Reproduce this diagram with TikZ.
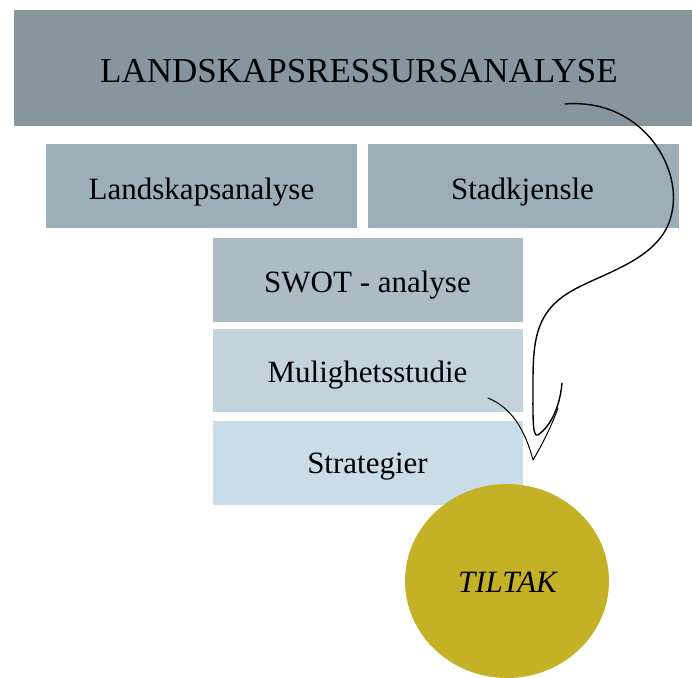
\documentclass[tikz,border=0pt]{standalone}
\usepackage{fontspec}
\setmainfont{Liberation Serif}
\usetikzlibrary{shapes.geometric}
\definecolor{ctop}{HTML}{87969E}
\definecolor{csec}{HTML}{9CAEB8}
\definecolor{cswot}{HTML}{ABBCC5}
\definecolor{cmul}{HTML}{C2D3DC}
\definecolor{cstr}{HTML}{C9DCE8}
\definecolor{ccirc}{HTML}{C4B126}
\begin{document}
\begin{tikzpicture}[x=1pt,y=-1pt,
  box/.style={rectangle, inner sep=0pt, outer sep=0pt},
  lbl/.style={anchor=base, inner sep=0pt, text=black,
    font=\fontsize{31}{34}\selectfont},
  pen/.style={draw=black, line width=1.4pt, line cap=round, line join=round}]
\useasboundingbox (0,0) rectangle (692,677);
\node[box, fill=ctop, minimum width=678pt, minimum height=116pt] (top) at (353,68) {};
\node[box, fill=csec, minimum width=311pt, minimum height=84pt] (land) at (201.5,186) {};
\node[box, fill=csec, minimum width=311pt, minimum height=84pt] (stad) at (523.5,186) {};
\node[box, fill=cswot, minimum width=310pt, minimum height=84pt] (swot) at (368,280) {};
\node[box, fill=cmul, minimum width=310pt, minimum height=83pt] (mul) at (368,370.5) {};
\node[box, fill=cstr, minimum width=310pt, minimum height=84pt] (str) at (368,463) {};
\node[ellipse, fill=ccirc, minimum width=204pt, minimum height=194pt, inner sep=0pt] (tilt) at (507,581) {};
\node[lbl, font=\fontsize{35}{38}\selectfont] (ttop) at (359,82) {LANDSKAPSRESSURSANALYSE};
\node[lbl] (tland) at (201.5,199) {Landskapsanalyse};
\node[lbl] (tstad) at (522.5,199) {Stadkjensle};
\node[lbl] (tswot) at (367.5,292) {SWOT - analyse};
\node[lbl] (tmul) at (367.5,382) {Mulighetsstudie};
\node[lbl] (tstr) at (367.5,473) {Strategier};
\node[lbl, font=\fontsize{31}{34}\selectfont\itshape] (ttilt) at (507.5,592) {TILTAK};
% hand-drawn arrow
\coordinate (a0) at (565,104);
\coordinate (a1) at (538,435);
\coordinate (a2) at (562,383);
\coordinate (b0) at (488,398);
\coordinate (b1) at (533,460);
\coordinate (b2) at (558,408);
\draw[pen] (a0) .. controls (640,98) and (682,165) .. (672,212)
  .. controls (664,256) and (612,270) .. (577,288)
  .. controls (538,308) and (533,335) .. (533,380)
  .. controls (533,415) and (532,438) .. (a1)
  .. controls (552,425) and (560,405) .. (a2);
\draw[pen, line width=1pt] (b0) .. controls (512,408) and (525,430) .. (b1)
  .. controls (542,445) and (552,425) .. (b2);
\end{tikzpicture}
\end{document}
